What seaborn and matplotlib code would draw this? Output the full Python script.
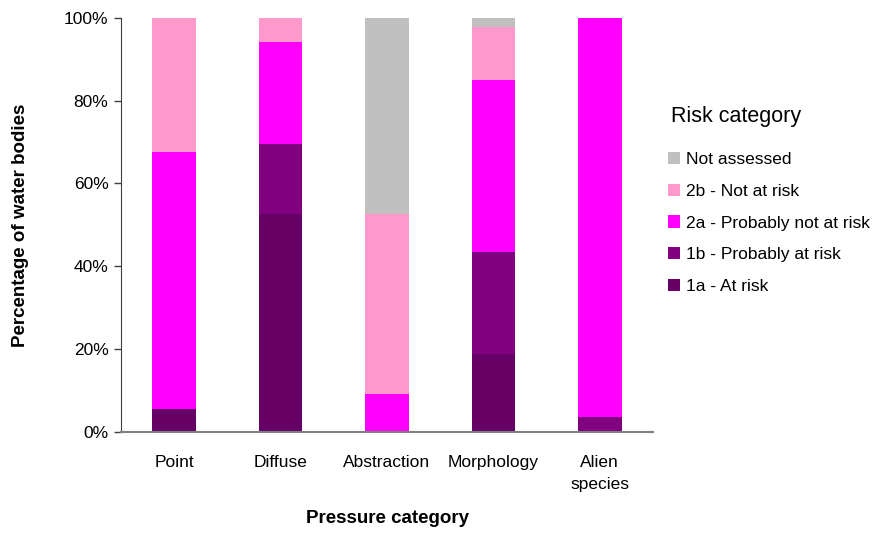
import numpy as np
import pandas as pd
import matplotlib.pyplot as plt
import seaborn as sns
from matplotlib.patches import Patch
from matplotlib.ticker import FixedLocator

# Chart values (percent of water bodies per pressure category)
categories = ['Point', 'Diffuse', 'Abstraction', 'Morphology', 'Alien\nspecies']
at_risk_1a = [5.5, 52.7, 0.0, 18.8, 0.0]
prob_at_risk_1b = [0.0, 16.8, 0.0, 24.7, 3.6]
prob_not_at_risk_2a = [62.2, 24.7, 9.1, 41.5, 96.4]
not_at_risk_2b = [32.3, 5.8, 43.6, 12.8, 0.0]
not_assessed = [0.0, 0.0, 47.3, 2.2, 0.0]

risk_labels = ['1a - At risk', '1b - Probably at risk', '2a - Probably not at risk',
               '2b - Not at risk', 'Not assessed']
risk_colors = ['#660066', '#800080', '#FF00FF', '#FF99CC', '#C0C0C0']

df = pd.DataFrame({
    risk_labels[0]: at_risk_1a,
    risk_labels[1]: prob_at_risk_1b,
    risk_labels[2]: prob_not_at_risk_2a,
    risk_labels[3]: not_at_risk_2b,
    risk_labels[4]: not_assessed,
}, index=categories)
cum = df.cumsum(axis=1)

sns.set_style('white')
plt.rcParams['font.family'] = ['Liberation Sans', 'DejaVu Sans']
plt.rcParams['text.color'] = 'black'
plt.rcParams['xtick.color'] = 'black'
plt.rcParams['ytick.color'] = 'black'
plt.rcParams['axes.labelcolor'] = 'black'

fig = plt.figure(figsize=(8.81, 5.33), dpi=100)
ax = fig.add_axes([121 / 881, 1 - 431.7 / 533, 532 / 881, 413.7 / 533])

# draw cumulative layers from the top down so each one covers the next
for name, color in reversed(list(zip(risk_labels, risk_colors))):
    sns.barplot(x=categories, y=cum[name].values, color=color, saturation=1,
                width=0.41, linewidth=0, ax=ax)

ax.set_xlim(-0.5, 4.5)
ax.set_ylim(0, 100)
ax.set_yticks(np.arange(0, 101, 20))
ax.set_yticklabels([f'{v}%' for v in range(0, 101, 20)], fontsize=12.5)
ax.set_xticks(range(len(categories)))
ax.set_xticklabels(categories, fontsize=12.5, linespacing=1.55)
ax.xaxis.set_minor_locator(FixedLocator(np.arange(-0.5, 5, 1)))
ax.tick_params(axis='x', which='major', length=0, pad=17)
ax.tick_params(axis='x', which='minor', length=5, width=1.2, color='#404040', direction='out')
ax.tick_params(axis='y', length=5, width=1, color='#404040', direction='out', pad=4, left=True)

for s in ['top', 'right']:
    ax.spines[s].set_visible(False)
ax.spines['left'].set_color('#404040')
ax.spines['bottom'].set_color('#808080')
ax.spines['bottom'].set_linewidth(1.5)

ax.set_xlabel('Pressure category', fontsize=13.5, fontweight='bold')
ax.set_ylabel('Percentage of water bodies', fontsize=13.5, fontweight='bold')
ax.xaxis.set_label_coords(0.5, -0.19)
ax.yaxis.set_label_coords(-0.172, 0.5)

handles = [Patch(facecolor=c, edgecolor='none', label=l)
           for l, c in zip(risk_labels, risk_colors)][::-1]
leg = fig.legend(handles=handles, title='Risk category', loc='upper left',
                 bbox_to_anchor=(668 / 881, 1 - 106 / 533), frameon=False,
                 fontsize=12.5, title_fontsize=15.5, alignment='left',
                 handlelength=0.7, handleheight=0.7, handletextpad=0.35,
                 labelspacing=0.955, borderpad=0, borderaxespad=0)
leg._legend_box.sep = 18
leg.get_title().set_position((3, 0))

plt.savefig('out.png', dpi=100)
